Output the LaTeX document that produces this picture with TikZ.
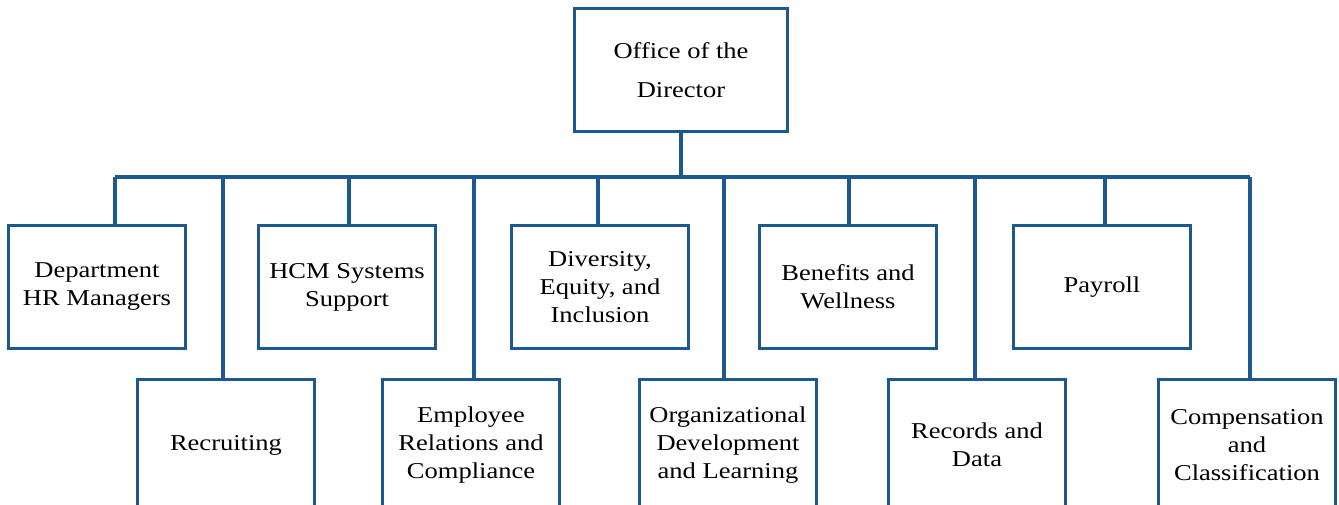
\documentclass[tikz,border=0pt]{standalone}
\usepackage{fontspec}
\setmainfont[FakeStretch=1.17]{Liberation Serif}
\usepackage{tikz}
\usetikzlibrary{calc}
\definecolor{orgblue}{RGB}{30,88,145}

\begin{document}
\begin{tikzpicture}[x=0.75pt,y=-0.75pt,
        unit/.style={
                draw=orgblue,
                line width=2.4pt,
                minimum width=133pt,
                minimum height=92.5pt,
                inner sep=0pt,
                align=center,
                font=\fontsize{17}{21}\selectfont
            },
        head/.style={
                unit,
                minimum width=160pt
            },
        lower/.style={
                unit,
                minimum height=98pt
            },
        link/.style={
                draw=orgblue,
                line width=2.4pt
            }]
        \useasboundingbox (0,0) rectangle (1339,504);

        \node [head] (dir) at (681,70) {Office of the\\[8pt]Director};

        % upper row
        \node [unit] (dept) at (97,287) {Department\\HR Managers};
        \node [unit] (hcm) at ($(dept) + (250,0)$) {HCM Systems\\Support};
        \node [unit] (div) at ($(hcm) + (253,0)$) {Diversity,\\Equity, and\\Inclusion};
        \node [unit] (ben) at ($(div) + (248,0)$) {Benefits and\\Wellness};
        \node [unit] (pay) at ($(ben) + (254,0)$) {Payroll};

        % lower row, cut off at the bottom
        \node [lower] (rec) at (226,445) {Recruiting};
        \node [lower] (emp) at ($(rec) + (245,0)$) {Employee\\Relations and\\Compliance};
        \node [lower] (org) at ($(emp) + (257,0)$) {Organizational\\Development\\and Learning};
        \node [lower] (data) at ($(org) + (249,0)$) {Records and\\Data};
        \node [lower] (comp) at ($(data) + (270,0)$) {Compensation\\and\\Classification};

        % points on the bar
        \coordinate (b-dept) at (115,177);
        \coordinate (b-rec) at (223,177);
        \coordinate (b-hcm) at (349,177);
        \coordinate (b-emp) at (474,177);
        \coordinate (b-div) at (598,177);
        \coordinate (b-org) at (724,177);
        \coordinate (b-ben) at (849,177);
        \coordinate (b-data) at (975,177);
        \coordinate (b-pay) at (1105,177);
        \coordinate (b-comp) at (1250,177);

        \draw [link] (dir.south) -- (dir.south |- b-dept);
        \draw [link] (b-dept) -- (b-comp);
        \foreach \u in {dept,rec,hcm,emp,div,org,ben,data,pay,comp}
            \draw [link] (b-\u) -- (b-\u |- \u.north);
    \end{tikzpicture}
\end{document}
